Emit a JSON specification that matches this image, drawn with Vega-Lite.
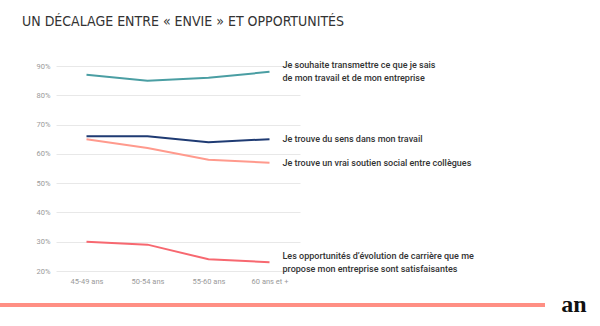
{
  "$schema": "https://vega.github.io/schema/vega-lite/v6.json",
  "padding": {"left": 0, "top": 15, "right": 0, "bottom": 0},
  "background": "white",
  "title": {
    "text": "UN DÉCALAGE ENTRE « ENVIE » ET OPPORTUNITÉS",
    "anchor": "start",
    "dx": 22,
    "offset": 32,
    "font": "Liberation Sans Narrow, DejaVu Sans Condensed, sans-serif",
    "fontSize": 14,
    "letterSpacing": -1.3,
    "fontWeight": "normal",
    "color": "#333333"
  },
  "spacing": 8,
  "config": {"view": {"stroke": null}},
  "datasets": {
    "series": [
      {"age": "45-49 ans", "item": "transmettre", "value": 0.87, "label": "Je souhaite transmettre ce que je sais\nde mon travail et de mon entreprise"},
      {"age": "50-54 ans", "item": "transmettre", "value": 0.85, "label": "Je souhaite transmettre ce que je sais\nde mon travail et de mon entreprise"},
      {"age": "55-60 ans", "item": "transmettre", "value": 0.86, "label": "Je souhaite transmettre ce que je sais\nde mon travail et de mon entreprise"},
      {"age": "60 ans et +", "item": "transmettre", "value": 0.88, "label": "Je souhaite transmettre ce que je sais\nde mon travail et de mon entreprise"},
      {"age": "45-49 ans", "item": "sens", "value": 0.66, "label": "Je trouve du sens dans mon travail"},
      {"age": "50-54 ans", "item": "sens", "value": 0.66, "label": "Je trouve du sens dans mon travail"},
      {"age": "55-60 ans", "item": "sens", "value": 0.64, "label": "Je trouve du sens dans mon travail"},
      {"age": "60 ans et +", "item": "sens", "value": 0.65, "label": "Je trouve du sens dans mon travail"},
      {"age": "45-49 ans", "item": "soutien", "value": 0.65, "label": "Je trouve un vrai soutien social entre collègues"},
      {"age": "50-54 ans", "item": "soutien", "value": 0.62, "label": "Je trouve un vrai soutien social entre collègues"},
      {"age": "55-60 ans", "item": "soutien", "value": 0.58, "label": "Je trouve un vrai soutien social entre collègues"},
      {"age": "60 ans et +", "item": "soutien", "value": 0.57, "label": "Je trouve un vrai soutien social entre collègues"},
      {"age": "45-49 ans", "item": "opportunites", "value": 0.30, "label": "Les opportunités d’évolution de carrière que me\npropose mon entreprise sont satisfaisantes"},
      {"age": "50-54 ans", "item": "opportunites", "value": 0.29, "label": "Les opportunités d’évolution de carrière que me\npropose mon entreprise sont satisfaisantes"},
      {"age": "55-60 ans", "item": "opportunites", "value": 0.24, "label": "Les opportunités d’évolution de carrière que me\npropose mon entreprise sont satisfaisantes"},
      {"age": "60 ans et +", "item": "opportunites", "value": 0.23, "label": "Les opportunités d’évolution de carrière que me\npropose mon entreprise sont satisfaisantes"}
    ],
    "footer": [{"logo": "an"}]
  },
  "vconcat": [
    {
      "spacing": 0,
      "hconcat": [
        {
          "width": 1, "height": 205,
          "data": {"name": "footer"},
          "mark": {"type": "text"},
          "encoding": {"text": {"value": ""}}
        },
        {
          "width": 244,
          "height": 205,
          "data": {"name": "series"},
          "encoding": {
            "x": {
              "field": "age", "type": "ordinal", "sort": null,
              "scale": {"type": "point", "padding": 0.5},
              "axis": {
                "title": null, "labelAngle": 0, "ticks": false, "domain": false,
                "labelColor": "#9a9a9a", "labelFontSize": 7.5, "labelPadding": 6,
                "labelFont": "Roboto, sans-serif"
              }
            },
            "y": {
              "field": "value", "type": "quantitative",
              "scale": {"domain": [0.2, 0.9], "nice": false, "zero": false},
              "axis": {
                "title": null, "format": ".0%", "values": [0.2, 0.3, 0.4, 0.5, 0.6, 0.7, 0.8, 0.9],
                "labelOverlap": false,
                "ticks": false, "domain": false, "gridColor": "#e8e8e8", "gridWidth": 1,
                "labelColor": "#9a9a9a", "labelFontSize": 7.5, "labelPadding": 6, "minExtent": 55,
                "labelFont": "Roboto, sans-serif"
              }
            },
            "color": {
              "field": "item", "type": "nominal", "legend": null,
              "scale": {
                "domain": ["transmettre", "sens", "soutien", "opportunites"],
                "range": ["#4a9ea3", "#1f3b73", "#ff9a8d", "#f76870"]
              }
            }
          },
          "layer": [
            {"mark": {"type": "line", "strokeWidth": 2}},
            {
              "transform": [{"filter": "datum.age === '60 ans et +' && (datum.item === 'sens' || datum.item === 'soutien')"}],
              "mark": {
                "type": "text", "align": "left", "baseline": "middle", "dx": 13,
                "fontSize": 9, "font": "Roboto, sans-serif", "fontWeight": 500
              },
              "encoding": {"text": {"field": "label"}, "color": {"value": "#333333"}}
            },
            {
              "transform": [{"filter": "datum.age === '60 ans et +' && (datum.item === 'transmettre' || datum.item === 'opportunites')"}],
              "mark": {
                "type": "text", "align": "left", "baseline": "middle", "dx": 13, "dy": -6.5,
                "lineBreak": "\n", "lineHeight": 13, "fontSize": 9,
                "font": "Roboto, sans-serif", "fontWeight": 500
              },
              "encoding": {"text": {"field": "label"}, "color": {"value": "#333333"}}
            }
          ]
        }
      ]
    },
    {
      "data": {"name": "footer"},
      "spacing": 14,
      "hconcat": [
        {"width": 545, "height": 4, "mark": {"type": "rect", "color": "#ff8f84"}, "encoding": {}},
        {
          "width": 30, "height": 4,
          "mark": {"type": "text", "font": "Liberation Serif, DejaVu Serif, serif", "fontSize": 24, "fontWeight": "bold", "color": "#111111", "baseline": "middle", "letterSpacing": -3},
          "encoding": {"text": {"field": "logo"}}
        }
      ]
    }
  ]
}
